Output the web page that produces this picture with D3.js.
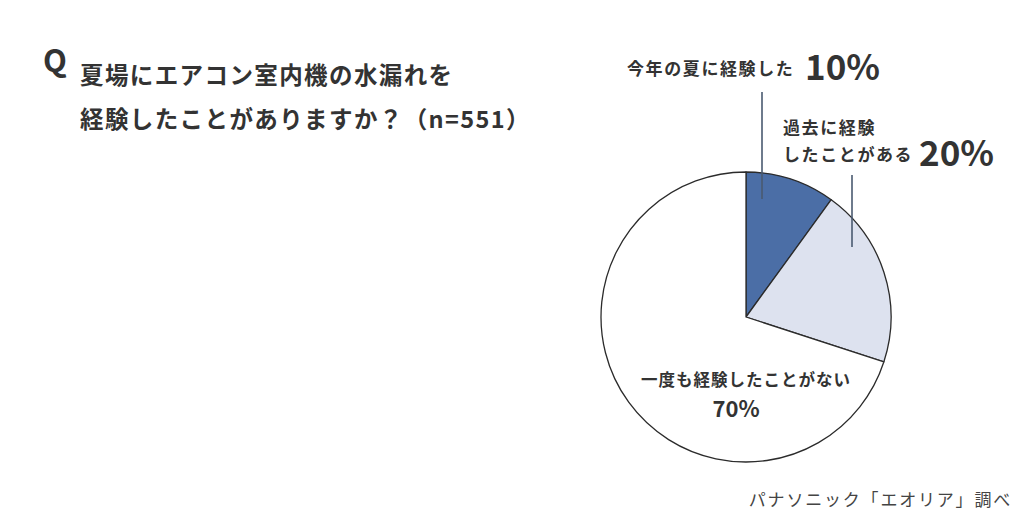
<!DOCTYPE html>
<html><head><meta charset="utf-8">
<script src="https://cdn.jsdelivr.net/npm/d3@7"></script>
<style>
html,body{margin:0;padding:0;background:#fff;}
svg{display:block;font-family:"Noto Sans CJK JP","Noto Sans",sans-serif;}
</style></head>
<body>
<svg id="chart" width="1024" height="520"></svg>
<script>
const categories = ["今年の夏に経験した", "過去に経験したことがある", "一度も経験したことがない"];
const values = [10, 20, 70];
const valueLabels = ["10%", "20%", "70%"];
const colors = ["#4b6ea6", "#dde2ef", "#ffffff"];
const titleLines = ["夏場にエアコン室内機の水漏れを", "経験したことがありますか？（n=551）"];
const source = "パナソニック「エオリア」調べ";

const svg = d3.select("#chart");
const ink = "#333333";
const cx = 746, cy = 317, R = 145;

// Title
svg.append("text").attr("x", 43).attr("y", 72).attr("font-size", 31).attr("font-weight", 700)
  .attr("fill", ink).text("Q");
titleLines.forEach((t, i) => {
  svg.append("text").attr("x", 80).attr("y", 84 + i * 44).attr("font-size", 23.5).attr("font-weight", 700)
    .attr("letter-spacing", 1.4).attr("fill", ink).text(t);
});

// Pie
const pie = d3.pie().sort(null).value(d => d)(values);
const arc = d3.arc().innerRadius(0).outerRadius(R);
const g = svg.append("g").attr("transform", `translate(${cx},${cy})`);
g.selectAll("path").data(pie).join("path")
  .attr("d", arc).attr("fill", (d, i) => colors[i])
  .attr("stroke", "#2b2b2b").attr("stroke-width", 1.3).attr("stroke-linejoin", "round");

// Leader lines
const leaders = [
  {x: 16, y1: -225, y2: -118},
  {x: 106, y1: -142, y2: -70}
];
g.selectAll("line.leader").data(leaders).join("line")
  .attr("x1", d => d.x).attr("x2", d => d.x).attr("y1", d => d.y1).attr("y2", d => d.y2)
  .attr("stroke", "#4a5a70").attr("stroke-width", 1.6);

// Label 1
svg.append("text").attr("x", 627).attr("y", 75).attr("font-size", 17).attr("font-weight", 700)
  .attr("letter-spacing", 1.6).attr("fill", ink).text(categories[0]);
svg.append("text").attr("x", 805).attr("y", 80).attr("font-size", 35).attr("font-weight", 700)
  .attr("fill", ink).text(valueLabels[0]);

// Label 2
svg.append("text").attr("x", 783).attr("y", 134).attr("font-size", 17).attr("font-weight", 700)
  .attr("letter-spacing", 1.6).attr("fill", ink).text(categories[1].slice(0, 5));
svg.append("text").attr("x", 783).attr("y", 161).attr("font-size", 17).attr("font-weight", 700)
  .attr("letter-spacing", 1.6).attr("fill", ink).text(categories[1].slice(5));
svg.append("text").attr("x", 919).attr("y", 166).attr("font-size", 35).attr("font-weight", 700)
  .attr("fill", ink).text(valueLabels[1]);

// Label 3 (inside)
svg.append("text").attr("x", cx).attr("y", 386).attr("text-anchor", "middle").attr("font-size", 16.5)
  .attr("font-weight", 700).attr("letter-spacing", 1.0).attr("fill", ink).text(categories[2]);
svg.append("text").attr("x", 736).attr("y", 417).attr("text-anchor", "middle").attr("font-size", 22)
  .attr("font-weight", 700).attr("fill", ink).text(valueLabels[2]);

// Source
svg.append("text").attr("x", 1012).attr("y", 506).attr("text-anchor", "end").attr("font-size", 17)
  .attr("letter-spacing", 1.8).attr("fill", "#444").text(source);
</script>
</body></html>
